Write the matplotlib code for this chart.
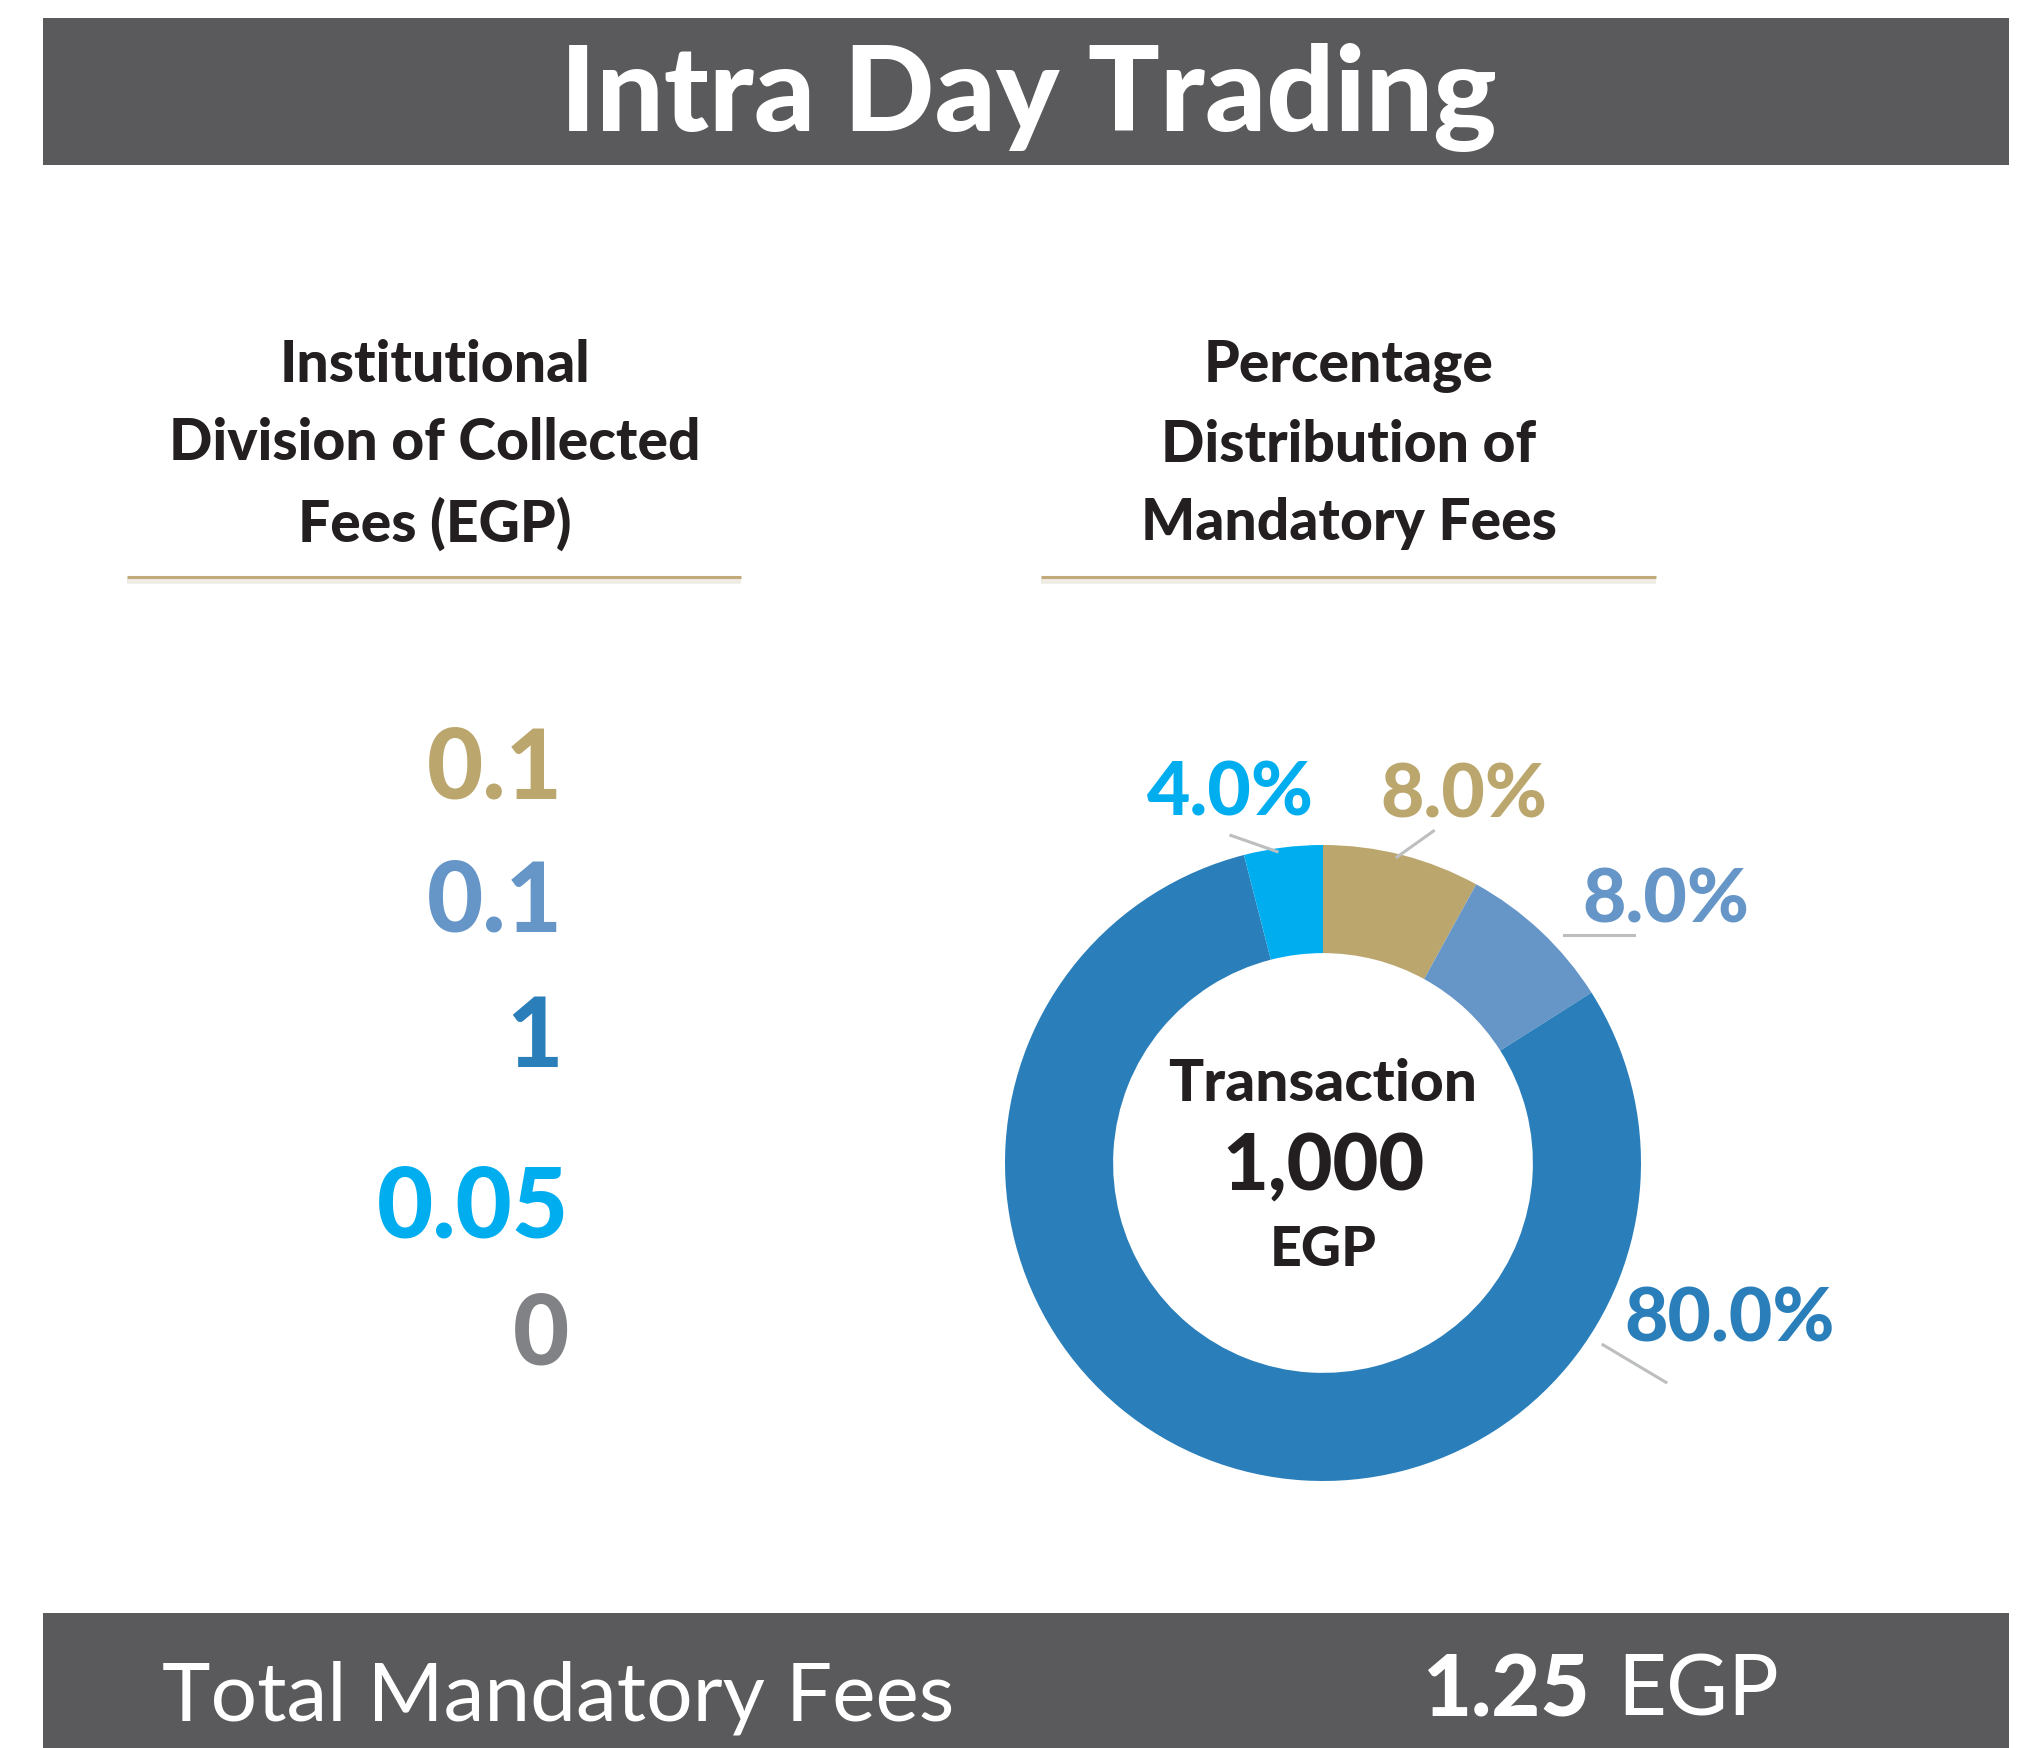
import numpy as np
import matplotlib
matplotlib.use("Agg")
import matplotlib.pyplot as plt
from matplotlib.patches import Rectangle

# ---- data ----
title = "Intra Day Trading"
left_heading = "Institutional\nDivision of Collected\nFees (EGP)"
right_heading = "Percentage\nDistribution of\nMandatory Fees"
fee_values = ["0.1", "0.1", "1", "0.05", "0"]
fee_colors = ["#bba66e", "#6596c7", "#2a7fba", "#00aeef", "#818285"]
share_values = [8.0, 8.0, 80.0, 4.0]
share_colors = ["#bba66e", "#6596c7", "#2a7fba", "#00aeef"]
center_lines = ["Transaction", "1,000", "EGP"]
total_label = "Total Mandatory Fees"
total_amount = "1.25"
total_unit = "EGP"

W, H = 2028, 1749
BANNER = "#5a5a5c"
INK = "#231f20"
LEADER = "#bcbec0"
BOLD = ["Lato", "DejaVu Sans"]

fig = plt.figure(figsize=(W / 100, H / 100), dpi=100)
bg = fig.add_axes([0, 0, 1, 1])
bg.set_xlim(0, W)
bg.set_ylim(H, 0)
bg.axis("off")

# banners
bg.add_patch(Rectangle((43, 19), 1966, 147, color=BANNER, lw=0))
bg.add_patch(Rectangle((43, 1614), 1966, 140, color=BANNER, lw=0))
bg.text(1028, 97, title, color="white", fontsize=86, fontweight=900,
        family=BOLD, ha="center", va="center")
bg.text(162, 1698, total_label, color="white", fontsize=59, family=BOLD,
        fontweight="normal", ha="left", va="center")
bg.text(1590, 1692, total_amount, color="white", fontsize=61, family=BOLD,
        fontweight=900, ha="right", va="center")
bg.text(1617, 1692, total_unit, color="white", fontsize=61, family=BOLD,
        fontweight="normal", ha="left", va="center")

# headings with gold rules
for hx, txt, (x0, x1) in [(435, left_heading, (127, 741)),
                          (1349, right_heading, (1041, 1656))]:
    bg.text(hx, 445, txt, color=INK, fontsize=41, fontweight=900, family=BOLD,
            ha="center", va="center", linespacing=1.6)
    bg.plot([x0, x1], [582, 582], color="#efece6", lw=4, solid_capstyle="butt")
    bg.plot([x0, x1], [578, 578], color="#c1ab7a", lw=2.2, solid_capstyle="butt")

# left column of fee values
fee_y = [770, 903, 1039, 1209, 1336]
fee_x = [563, 563, 563, 569, 569]
for v, c, x, y in zip(fee_values, fee_colors, fee_x, fee_y):
    bg.text(x, y, v, color=c, fontsize=70, fontweight=900, family=BOLD,
            ha="right", va="center")

# donut
R = 318
cx, cy = 1323, 1164
side = 3 * R
ax = fig.add_axes([(cx - side / 2) / W, (H - cy - side / 2) / H, side / W, side / H])
wedges, _ = ax.pie(share_values, colors=share_colors, startangle=90, counterclock=False,
                   radius=1.0, wedgeprops=dict(width=0.34, linewidth=0))
ax.set_xlim(-1.5, 1.5)
ax.set_ylim(-1.5, 1.5)
ax.set_aspect("equal")
ax.axis("off")

# label placement, angles clockwise from 12 o'clock in degrees, radii in donut units
label_layout = [
    dict(a0=13.6, r0=0.99, a1=18.4, r1=1.10, at=21.0, rt=1.24),
    dict(a0=None, r0=None, a1=None, r1=None, at=52.5, rt=1.36),
    dict(a0=123.0, r0=1.05, a1=122.6, r1=1.28, at=111.0, rt=1.37),
    dict(a0=-8.4, r0=0.99, a1=-15.7, r1=1.07, at=-14.0, rt=1.20),
]


def polar(a, r):
    t = np.deg2rad(90 - a)
    return r * np.cos(t), r * np.sin(t)


for w, v, c, lay in zip(wedges, share_values, share_colors, label_layout):
    tx, ty = polar(lay["at"], lay["rt"])
    ax.text(tx, ty, f"{v:.1f}%", color=c, fontsize=54, fontweight=900,
            family=BOLD, ha="center", va="center")
    if lay["a0"] is not None:
        x0, y0 = polar(lay["a0"], lay["r0"])
        x1, y1 = polar(lay["a1"], lay["r1"])
        ax.plot([x0, x1], [y0, y1], color=LEADER, lw=2.2, clip_on=False)
    else:
        # short horizontal leader under the label of the narrow right slice
        ax.plot([tx - 0.32, tx - 0.10], [ty - 0.11, ty - 0.11], color=LEADER, lw=2.2,
                clip_on=False)

# centre caption
ax.text(0, 0.25, center_lines[0], color=INK, fontsize=42, fontweight=900, family=BOLD,
        ha="center", va="center")
ax.text(0, -0.01, center_lines[1], color=INK, fontsize=57, fontweight=900, family=BOLD,
        ha="center", va="center")
ax.text(0, -0.27, center_lines[2], color=INK, fontsize=40, fontweight=900, family=BOLD,
        ha="center", va="center")

fig.savefig("out.png", dpi=100)
